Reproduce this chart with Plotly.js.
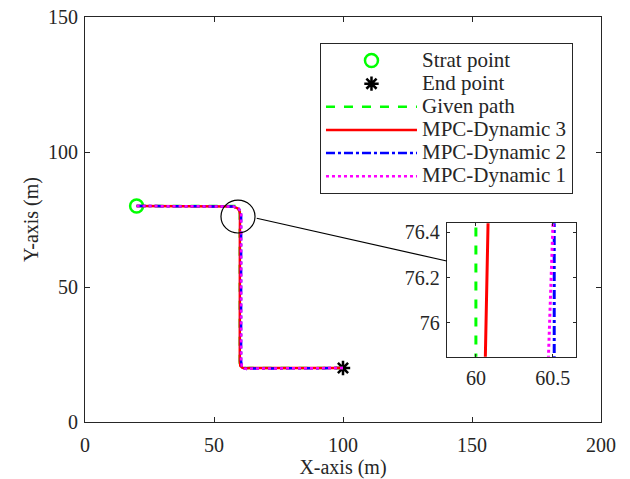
<!DOCTYPE html>
<html>
<head>
<meta charset="utf-8">
<script src="https://cdn.plot.ly/plotly-3.0.1.min.js"></script>
<style>html,body{margin:0;padding:0;background:#fff;}#chart{width:630px;height:479px;}</style>
</head>
<body>
<div id="chart"></div>
<script>
// ---- data ----
const startX = [20];
const startY = [80];
const endX = [100];
const endY = [20];

const givenX = [20, 60, 60, 100];
const givenY = [80, 80, 20, 20];

const mpc3X = [20, 55, 57.5, 59.2, 59.9, 60.09, 60.06, 60.03, 60.0, 60.2, 61.0, 62.5, 64, 100];
const mpc3Y = [80, 80, 79.8, 79.1, 78.0, 76.8, 75.8, 70, 22.5, 20.8, 20.1, 19.9, 20, 20];

const mpc2X = [20, 55, 57.5, 59.5, 60.3, 60.51, 60.51, 60.5, 60.5, 60.8, 61.8, 63, 65, 100];
const mpc2Y = [80, 80, 79.8, 79.1, 78.1, 76.8, 75.6, 70, 22.5, 20.6, 19.8, 19.6, 19.8, 20];

const mpc1X = [20, 55, 57.5, 59.5, 60.3, 60.52, 60.46, 60.48, 60.5, 60.8, 61.8, 63, 65, 100];
const mpc1Y = [80, 80, 79.8, 79.1, 78.1, 76.8, 75.6, 70, 22.5, 20.6, 19.8, 19.6, 19.8, 20];

const xTicks = [0, 50, 100, 150, 200];
const yTicks = [0, 50, 100, 150];
const insetXTicks = [60, 60.5];
const insetXTickText = ['60', '60.5'];
const insetYTicks = [76, 76.2, 76.4];
const insetYTickText = ['76', '76.2', '76.4'];

const names = ['Strat point', 'End point', 'Given path', 'MPC-Dynamic 3', 'MPC-Dynamic 2', 'MPC-Dynamic 1'];

// ---- styles ----
const GREEN = '#00ff00', RED = '#ff0000', BLUE = '#0000ff', MAG = '#ff00ff';
const FONT = 'Liberation Serif';
const AX = '#262626';
const FS = 20;
const leg = (s) => '<span style="font-size:21px">' + s + '</span>';

function lineTraces(xa, ya, show, w) {
  return [
    {x: givenX, y: givenY, mode: 'lines', name: leg(names[2]), xaxis: xa, yaxis: ya, showlegend: show,
     line: {color: GREEN, width: w, dash: 'dash'}},
    {x: mpc3X, y: mpc3Y, mode: 'lines', name: leg(names[3]), xaxis: xa, yaxis: ya, showlegend: show,
     line: {color: RED, width: w, dash: 'solid'}},
    {x: mpc2X, y: mpc2Y, mode: 'lines', name: leg(names[4]), xaxis: xa, yaxis: ya, showlegend: show,
     line: {color: BLUE, width: w, dash: 'dashdot'}},
    {x: mpc1X, y: mpc1Y, mode: 'lines', name: leg(names[5]), xaxis: xa, yaxis: ya, showlegend: show,
     line: {color: MAG, width: w, dash: 'dot'}}
  ];
}

const traces = [
  {x: startX, y: startY, mode: 'markers', name: leg(names[0]), xaxis: 'x', yaxis: 'y',
   marker: {symbol: 'circle-open', size: 13, color: GREEN, line: {width: 2.5, color: GREEN}}},
  {x: endX, y: endY, mode: 'markers', name: leg(names[1]), xaxis: 'x', yaxis: 'y',
   marker: {symbol: 'asterisk-open', size: 12, color: '#000', line: {width: 2.5, color: '#000'}}}
].concat(lineTraces('x', 'y', true, 2.5)).concat(lineTraces('x2', 'y2', false, 3));

const axCommon = {
  showgrid: false, zeroline: false, showline: true, linecolor: AX, linewidth: 1,
  mirror: 'allticks', ticks: 'inside', ticklen: 5, tickcolor: AX,
  tickfont: {family: FONT, size: FS, color: AX}
};

const layout = {
  width: 630, height: 479,
  margin: {l: 85, r: 29, t: 17, b: 57},
  paper_bgcolor: '#fff', plot_bgcolor: '#fff',
  font: {family: FONT, color: AX, size: FS},
  showlegend: true,
  legend: {
    x: 0.4554, y: 0.936, xanchor: 'left', yanchor: 'top',
    bgcolor: '#fff', bordercolor: AX, borderwidth: 1,
    font: {family: FONT, size: 15.5, color: AX}, tracegroupgap: 0, itemwidth: 91
  },
  xaxis: Object.assign({}, axCommon, {
    domain: [0, 1], range: [0, 200], tickvals: xTicks, anchor: 'y', ticklabelstandoff: 5,
    title: {text: 'X-axis (m)', font: {family: FONT, size: FS, color: AX}, standoff: 4}
  }),
  yaxis: Object.assign({}, axCommon, {
    domain: [0, 1], range: [0, 150], tickvals: yTicks, anchor: 'x', ticklabelstandoff: 2,
    title: {text: 'Y-axis (m)', font: {family: FONT, size: FS, color: AX}, standoff: 4}
  }),
  xaxis2: Object.assign({}, axCommon, {
    domain: [0.701, 0.951], range: [59.81, 60.65], anchor: 'y2', ticklabelstandoff: 3,
    tickvals: insetXTicks, ticktext: insetXTickText, ticklen: 3
  }),
  yaxis2: Object.assign({}, axCommon, {
    domain: [0.161, 0.491], range: [75.85, 76.44], anchor: 'x2', ticklabelstandoff: 2,
    tickvals: insetYTicks, ticktext: insetYTickText, ticklen: 3
  }),
  shapes: [
    {type: 'circle', xref: 'x', yref: 'y', x0: 59.3 - 6.6, x1: 59.3 + 6.6, y0: 76.1 - 6.1, y1: 76.1 + 6.1,
     line: {color: '#000', width: 1.2}},
    {type: 'line', xref: 'paper', yref: 'paper', x0: 0.3328, y0: 0.503, x1: 0.701, y1: 0.3975,
     line: {color: '#000', width: 1.2}}
  ]
};

Plotly.newPlot('chart', traces, layout, {displayModeBar: false, staticPlot: true});
</script>
</body>
</html>
